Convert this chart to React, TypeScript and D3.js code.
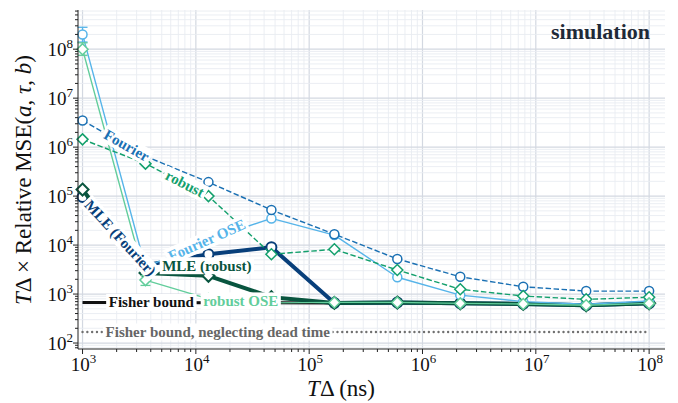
import * as d3 from "d3";

// T·Δ sample points (ns)
const tDelta = [1000, 3594, 12915, 46416, 166810, 599484, 2154435, 7742637, 27825594, 100000000];

// relative MSE values
const fourier = [3.5e6, 6.5e5, 1.93e5, 5.2e4, 1.67e4, 5.2e3, 2.25e3, 1.41e3, 1.15e3, 1.15e3];
const robust = [1.44e6, 4.6e5, 1.0e5, 6.5e3, 8.2e3, 3.1e3, 1.25e3, 910, 780, 860];
const fourierOSE = [2.0e8, 3.5e3, 1.3e4, 3.5e4, 1.6e4, 2.2e3, 950, 700, 620, 720];
const robustOSE = [1.0e8, 1.93e3, 800, 660, 675, 675, 645, 625, 590, 645];
const mleFourier = [9.6e4, 3.9e3, 6.5e3, 9.0e3, 660, 670, 650, 630, 590, 650];
const mleRobust = [1.36e5, 2.7e3, 2.36e3, 865, 660, 670, 650, 630, 590, 650];
const fisherBound = [676, 672, 668, 664, 660, 656, 650, 630, 600, 650];
const fisherNoDead = [168, 168, 168, 168, 168, 168, 168, 168, 168, 168];

// error bars: [series, point index, low, high]
const errorBars: [string, number, number, number][] = [
  ["fourierOSE", 0, 1.4e8, 2.8e8],
  ["robustOSE", 0, 7.5e7, 1.35e8],
  ["robustOSE", 1, 1.5e3, 2.4e3],
];

const xDecades = [3, 4, 5, 6, 7, 8];
const yDecades = [2, 3, 4, 5, 6, 7, 8];

const width = 678;
const height = 403;
const left = 78;
const right = 665;
const top = 10;
const bottom = 349;
const serif = "Liberation Serif, DejaVu Serif, Times New Roman, serif";

const xScale = d3.scaleLog().domain([Math.pow(10, 2.96), Math.pow(10, 8.14)]).range([left, right]);
const yScale = d3.scaleLog().domain([Math.pow(10, 1.878), Math.pow(10, 8.8)]).range([bottom, top]);

const series = [
  { key: "fisherNoDead", values: fisherNoDead, color: "#707070", width: 2.4, dash: "0.01,4.8", marker: null, r: 0, mw: 0 },
  { key: "fisher", values: fisherBound, color: "#111111", width: 3, dash: null, marker: null, r: 0, mw: 0 },
  { key: "mleFourier", values: mleFourier, color: "#083f7a", width: 4, dash: null, marker: "circle", r: 5, mw: 2 },
  { key: "mleRobust", values: mleRobust, color: "#09553f", width: 4, dash: null, marker: "diamond", r: 6, mw: 2 },
  { key: "fourierOSE", values: fourierOSE, color: "#56b4e9", width: 1.4, dash: null, marker: "circle", r: 4.5, mw: 1.5 },
  { key: "fourier", values: fourier, color: "#1a70b3", width: 1.4, dash: "5.5,2.5", marker: "circle", r: 4.5, mw: 1.5 },
  { key: "robust", values: robust, color: "#14a06d", width: 1.4, dash: "5.5,2.5", marker: "diamond", r: 5.5, mw: 1.5 },
  { key: "robustOSE", values: robustOSE, color: "#62cd9b", width: 1.4, dash: null, marker: "diamond", r: 5.5, mw: 1.5 },
];

const lineLabels = [
  { text: "Fourier", key: "fourier", at: 2450, dy: 0, flat: false },
  { text: "robust", key: "robust", at: 8000, dy: 0, flat: false },
  { text: "MLE (Fourier)", key: "mleFourier", at: 2160, dy: 0, flat: false },
  { text: "Fourier OSE", key: "fourierOSE", at: 12500, dy: 0, flat: false },
  { text: "MLE (robust)", key: "mleRobust", at: 12500, dy: -10, flat: true },
  { text: "robust OSE", key: "robustOSE", at: 24900, dy: 0, flat: true },
  { text: "Fisher bound", key: "fisher", at: 4050, dy: 0, flat: true },
  { text: "Fisher bound, neglecting dead time", key: "fisherNoDead", at: 15600, dy: 0, flat: true },
];

const labelFont = `bold 15px ${serif}`;
const ctx = document.createElement("canvas").getContext("2d");
function textWidth(t: string) {
  if (!ctx) return t.length * 7.5;
  ctx.font = labelFont;
  return ctx.measureText(t).width;
}

function diamond(s: number) {
  return `M0,${-s}L${s},0L0,${s}L${-s},0Z`;
}

function gridValues(decades: number[], scale: any) {
  const [lo, hi] = scale.domain();
  const out: { v: number; major: boolean }[] = [];
  for (const d of [decades[0] - 1, ...decades]) {
    for (let k = 1; k < 10; k++) {
      const v = k * Math.pow(10, d);
      if (v >= lo && v <= hi) out.push({ v, major: k === 1 });
    }
  }
  return out;
}

function labelPos(values: number[], at: number) {
  let i = 0;
  while (i < tDelta.length - 2 && tDelta[i + 1] < at) i++;
  const x0 = xScale(tDelta[i]);
  const x1 = xScale(tDelta[i + 1]);
  const y0 = yScale(values[i]);
  const y1 = yScale(values[i + 1]);
  const x = xScale(at);
  const t = (x - x0) / (x1 - x0);
  return { x, y: y0 + t * (y1 - y0), angle: (Math.atan2(y1 - y0, x1 - x0) * 180) / Math.PI };
}

export default function App() {
  const xGrid = gridValues(xDecades, xScale);
  const yGrid = gridValues(yDecades, yScale);
  const line = (values: number[]) =>
    d3
      .line<number>()
      .x((_, i) => xScale(tDelta[i]))
      .y((v) => yScale(v))(values);

  return (
    <svg width={width} height={height} style={{ position: "absolute", left: 0, top: 0, background: "#fff", fontFamily: serif }}>
      {/* grid */}
      <g>
        {xGrid.map((g, i) => (
          <line key={"gx" + i} x1={xScale(g.v)} x2={xScale(g.v)} y1={top} y2={bottom}
            stroke={g.major ? "#d3d8e1" : "#e9ecf2"} strokeWidth={g.major ? 1.2 : 0.9} />
        ))}
        {yGrid.map((g, i) => (
          <line key={"gy" + i} x1={left} x2={right} y1={yScale(g.v)} y2={yScale(g.v)}
            stroke={g.major ? "#d3d8e1" : "#e9ecf2"} strokeWidth={g.major ? 1.2 : 0.9} />
        ))}
      </g>

      {/* series */}
      {series.map((s) => (
        <g key={s.key}>
          <path d={line(s.values) || ""} fill="none" stroke={s.color} strokeWidth={s.width}
            strokeDasharray={s.dash || undefined} strokeLinecap={s.key === "fisherNoDead" ? "round" : "butt"}
            strokeLinejoin="round" />
          {errorBars.filter((e) => e[0] === s.key).map((e, j) => {
            const x = xScale(tDelta[e[1]]);
            return (
              <g key={j} stroke={s.color} strokeWidth={1.3}>
                <line x1={x} x2={x} y1={yScale(e[2])} y2={yScale(e[3])} />
                <line x1={x - 5} x2={x + 5} y1={yScale(e[2])} y2={yScale(e[2])} />
                <line x1={x - 5} x2={x + 5} y1={yScale(e[3])} y2={yScale(e[3])} />
              </g>
            );
          })}
          {s.marker &&
            s.values.map((v, i) =>
              s.marker === "circle" ? (
                <circle key={i} cx={xScale(tDelta[i])} cy={yScale(v)} r={s.r} fill="#fff" stroke={s.color} strokeWidth={s.mw} />
              ) : (
                <path key={i} transform={`translate(${xScale(tDelta[i])},${yScale(v)})`} d={diamond(s.r)}
                  fill="#fff" stroke={s.color} strokeWidth={s.mw} />
              )
            )}
        </g>
      ))}

      {/* inline labels */}
      {lineLabels.map((l) => {
        const s = series.find((d) => d.key === l.key)!;
        const p = labelPos(s.values, l.at);
        const w = textWidth(l.text);
        const angle = l.flat ? 0 : p.angle;
        return (
          <g key={l.text} transform={`translate(${p.x},${p.y + l.dy}) rotate(${angle})`}>
            <rect x={-w / 2 - 2.5} y={-8.5} width={w + 5} height={17} fill="#fff" />
            <text textAnchor="middle" dy="0.33em" style={{ fontFamily: serif }} fontWeight="bold" fontSize={15}
              fill={s.key === "fisherNoDead" ? "#666" : s.color}>
              {l.text}
            </text>
          </g>
        );
      })}

      {/* axes */}
      <g stroke="#222" strokeWidth={1}>
        <line x1={left} x2={left} y1={top} y2={bottom} />
        <line x1={left} x2={right} y1={bottom} y2={bottom} />
        {xGrid.map((g, i) => (
          <line key={"tx" + i} x1={xScale(g.v)} x2={xScale(g.v)} y1={bottom} y2={bottom + (g.major ? 5 : 3)} />
        ))}
        {yGrid.map((g, i) => (
          <line key={"ty" + i} x1={left} x2={left - (g.major ? 5 : 3)} y1={yScale(g.v)} y2={yScale(g.v)} />
        ))}
      </g>
      <g style={{ fontFamily: serif }} fill="#111">
        {xDecades.map((d) => (
          <text key={"lx" + d} x={xScale(Math.pow(10, d)) + 1} y={371} textAnchor="middle" fontSize={19}>
            10<tspan dy={-8} fontSize={13}>{d}</tspan>
          </text>
        ))}
        {yDecades.map((d) => (
          <text key={"ly" + d} x={73} y={yScale(Math.pow(10, d)) + 7} textAnchor="end" fontSize={19}>
            10<tspan dy={-8} fontSize={13}>{d}</tspan>
          </text>
        ))}
        <text x={341} y={396} textAnchor="middle" fontSize={23}>
          <tspan fontStyle="italic">T</tspan>Δ (ns)
        </text>
        <text transform="translate(31,180) rotate(-90)" textAnchor="middle" fontSize={23}>
          <tspan fontStyle="italic">T</tspan>Δ × Relative MSE(<tspan fontStyle="italic">a</tspan>, <tspan fontStyle="italic">τ</tspan>, <tspan fontStyle="italic">b</tspan>)
        </text>
        <text x={650} y={39} textAnchor="end" fontSize={22} fontWeight="bold" fill="#1f2a38">
          simulation
        </text>
      </g>
    </svg>
  );
}
